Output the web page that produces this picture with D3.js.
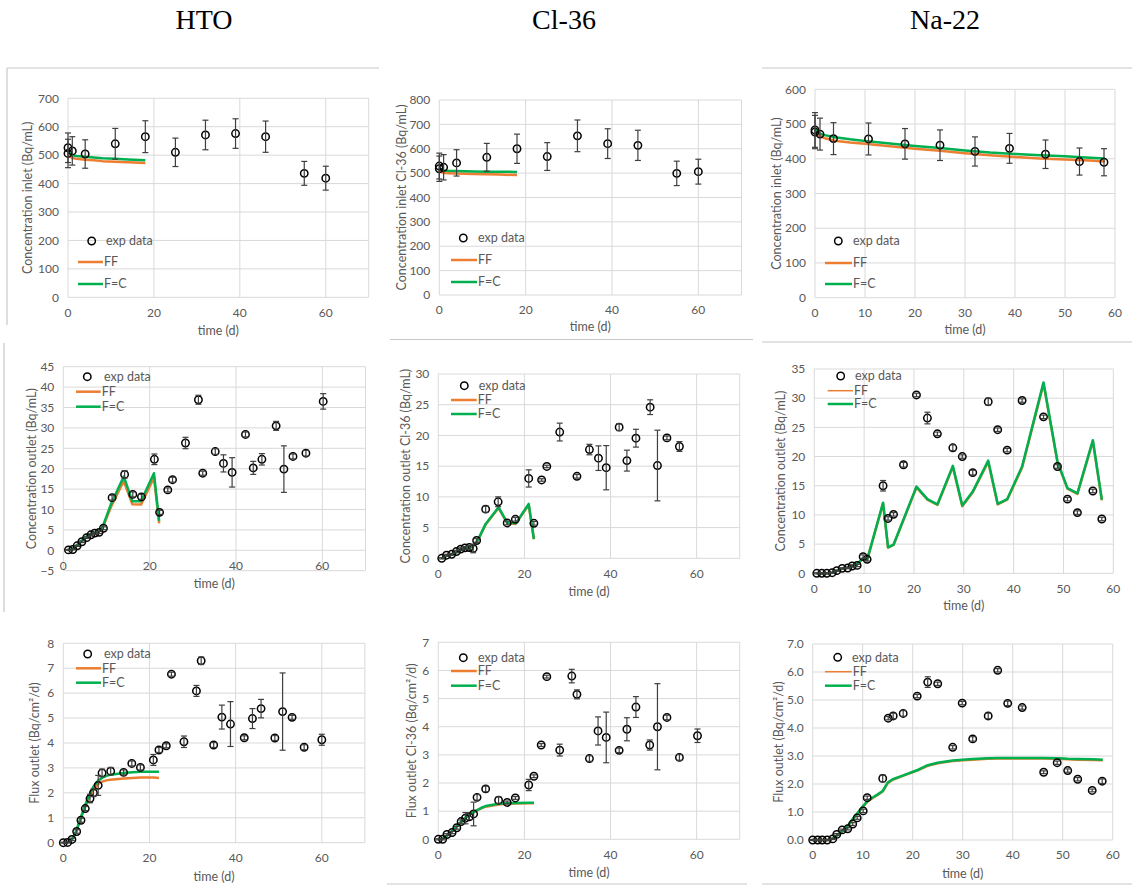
<!DOCTYPE html>
<html><head><meta charset="utf-8">
<script src="https://cdn.jsdelivr.net/npm/d3@7"></script>
<style>body{margin:0;background:#fff;} svg{display:block;} text{font-family:Lato,"Open Sans",sans-serif;}</style>
</head><body>
<svg id="c" width="1132" height="886"></svg>
<script>
// ---------- column titles ----------
const columnTitles = ["HTO", "Cl-36", "Na-22"];
const legendLabels = ["exp data", "FF", "F=C"];

// ---------- HTO inlet ----------
const htoInletT   = [0, 0, 1, 4, 11, 18, 25, 32, 39, 46, 55, 60];
const htoInletC   = [526, 506, 515, 504, 540, 565, 510, 571, 576, 565, 436, 419];
const htoInletErr = [52, 50, 50, 50, 54, 56, 50, 52, 52, 55, 42, 42];
const htoInletModelT = [0, 0.5, 1, 2, 4, 6, 8, 11, 14, 18];
const htoInletFF  = [505, 495, 490, 487, 484, 482, 479, 477, 475, 472];
const htoInletFC  = [512, 505, 500, 497, 494, 492, 489, 487, 485, 482];

// ---------- Cl-36 inlet ----------
const clInletT   = [0, 0, 1, 4, 11, 18, 25, 32, 39, 46, 55, 60];
const clInletC   = [529, 518, 524, 542, 565, 600, 568, 653, 621, 614, 499, 506];
const clInletErr = [53, 52, 52, 54, 57, 60, 57, 65, 61, 62, 50, 51];
const clInletModelT = [0, 0.5, 1, 2, 4, 6, 8, 11, 14, 18];
const clInletFF  = [518, 505, 501, 499, 498, 497, 496, 495, 494, 492];
const clInletFC  = [522, 513, 511, 510, 509, 508, 507, 506, 506, 505];

// ---------- Na-22 inlet ----------
const naInletT   = [0, 0, 1, 3.7, 10.7, 18, 25, 32, 38.9, 46.1, 52.9, 57.8];
const naInletC   = [483, 477, 471, 458, 457, 443, 439, 421, 430, 413, 392, 390];
const naInletErr = [50, 48, 46, 46, 46, 44, 44, 42, 43, 41, 39, 39];
const naInletModelT = [0, 0.5, 1, 2, 4, 7, 10, 15, 20, 25, 30, 35, 40, 45, 50, 55, 58];
const naInletFF  = [482, 470, 465, 459, 452, 447, 443, 436, 429, 423, 416, 410, 405, 401, 398, 395, 392];
const naInletFC  = [487, 477, 472, 468, 462, 456, 451, 444, 437, 431, 424, 418, 414, 410, 407, 403, 401];

// ---------- HTO outlet ----------
const htoOutT   = [1.2, 2.2, 3.2, 4.3, 5.4, 6.4, 7.3, 8.3, 9.3, 11.3, 14.2, 16.1, 18.1, 21.1, 22.3, 24.2, 25.3, 28.3, 31.3, 32.3, 35.2, 37.1, 39.1, 42.2, 44.0, 46.0, 49.3, 51.1, 53.2, 56.2, 60.2];
const htoOutC   = [0.1, 0.2, 1.1, 2.1, 3.1, 3.8, 4.2, 4.4, 5.4, 12.9, 18.6, 13.7, 13.1, 22.3, 9.3, 14.8, 17.3, 26.3, 36.9, 18.9, 24.2, 21.3, 19.1, 28.4, 20.2, 22.3, 30.5, 19.9, 23.0, 23.8, 36.5];
const htoOutErr = [0.1, 0.1, 0.15, 0.2, 0.2, 0.25, 0.25, 0.3, 0.35, 0.6, 0.9, 0.6, 0.6, 1.3, 0.5, 0.5, 0.6, 1.4, 1.1, 0.5, 0.7, 2.1, 3.6, 0.6, 1.6, 1.4, 1.1, 5.7, 0.6, 0.7, 1.9];
const htoOutModelT = [1, 2, 3, 4, 5, 6, 7, 8, 9, 11, 14, 16, 18, 21, 22.2];
const htoOutFF  = [0.1, 0.2, 1.0, 2.0, 3.0, 3.7, 4.1, 4.3, 5.2, 10.5, 17.0, 11.3, 11.2, 17.8, 6.6];
const htoOutFC  = [0.1, 0.2, 1.1, 2.1, 3.1, 3.8, 4.2, 4.4, 5.4, 11.2, 18.1, 12.0, 12.0, 18.9, 7.2];

// ---------- Cl-36 outlet ----------
const clOutT   = [0.8, 1.9, 3.1, 4.2, 5.2, 6.2, 7.2, 8.1, 8.9, 11, 13.9, 16, 17.9, 21, 22.2, 24, 25.2, 28.2, 32.2, 35.1, 37.2, 39, 42, 43.8, 45.9, 49.2, 50.9, 53.1, 56];
const clOutC   = [0.0, 0.5, 0.65, 1.1, 1.5, 1.7, 1.75, 1.6, 2.9, 8.0, 9.2, 5.75, 6.35, 13.0, 5.7, 12.75, 14.95, 20.55, 13.35, 17.7, 16.3, 14.75, 21.35, 15.9, 19.55, 24.6, 15.1, 19.6, 18.2];
const clOutErr = [0.1, 0.15, 0.15, 0.2, 0.2, 0.2, 0.3, 0.7, 0.3, 0.5, 0.8, 0.3, 0.3, 1.4, 0.3, 0.2, 0.2, 1.45, 0.3, 0.85, 2.0, 3.6, 0.55, 1.7, 1.45, 1.2, 5.75, 0.3, 0.8];
const clOutModelT = [0.8, 1.9, 3.1, 4.2, 5.2, 6.2, 7.2, 8.1, 9.2, 11, 14, 16, 18, 21, 22.2];
const clOutFF  = [0, 0.4, 0.6, 1.0, 1.35, 1.55, 1.65, 1.95, 2.9, 5.5, 8.2, 5.7, 5.6, 8.7, 3.1];
const clOutFC  = [0, 0.4, 0.6, 1.0, 1.4, 1.6, 1.7, 2.0, 3.0, 5.6, 8.3, 5.8, 5.7, 8.85, 3.15];

// ---------- Na-22 outlet ----------
const naOutT   = [0.5, 1.5, 2.5, 3.6, 4.5, 5.6, 6.7, 7.6, 8.6, 9.8, 10.6, 13.8, 14.8, 15.9, 17.9, 20.5, 22.7, 24.7, 27.8, 29.7, 31.8, 34.9, 36.8, 38.7, 41.7, 46.0, 48.8, 50.8, 52.8, 55.9, 57.7];
const naOutC   = [0, 0, 0, 0.1, 0.45, 0.85, 0.9, 1.25, 1.35, 2.85, 2.4, 15.0, 9.4, 10.1, 18.6, 30.55, 26.6, 23.9, 21.5, 20.0, 17.25, 29.4, 24.6, 21.1, 29.6, 26.8, 18.3, 12.7, 10.4, 14.1, 9.3];
const naOutErr = [0.1, 0.1, 0.1, 0.1, 0.1, 0.1, 0.1, 0.2, 0.2, 0.3, 0.3, 0.9, 0.3, 0.3, 0.4, 0.3, 1.0, 0.3, 0.5, 0.3, 0.4, 0.6, 0.3, 0.3, 0.3, 0.3, 0.3, 0.3, 0.3, 0.3, 0.3];
const naOutModelT = [0.5, 1.5, 2.5, 3.6, 4.5, 5.6, 6.7, 7.6, 8.6, 9.8, 10.6, 13.8, 14.8, 15.9, 20.5, 22.7, 24.7, 27.8, 29.7, 31.8, 34.9, 36.8, 38.7, 41.7, 46.0, 48.8, 50.8, 52.8, 55.9, 57.7];
const naOutFF  = [0, 0, 0, 0.1, 0.4, 0.8, 1.0, 1.3, 1.55, 2.55, 2.25, 12.0, 4.4, 4.85, 14.7, 12.6, 11.7, 18.2, 11.5, 13.9, 19.1, 11.8, 12.6, 18.1, 32.5, 19.0, 14.5, 13.6, 22.6, 12.5];
const naOutFC  = [0, 0, 0, 0.1, 0.4, 0.8, 1.0, 1.3, 1.6, 2.6, 2.3, 12.1, 4.45, 4.9, 14.85, 12.7, 11.8, 18.4, 11.6, 14.0, 19.3, 11.9, 12.7, 18.3, 32.7, 19.1, 14.6, 13.7, 22.8, 12.6];

// ---------- HTO flux ----------
const htoFluxT   = [0, 1, 2, 3.1, 4.1, 5.1, 6.2, 7.0, 8.1, 9.0, 11, 14, 15.9, 17.9, 20.9, 22.2, 23.9, 25.1, 28.0, 30.9, 32.0, 34.9, 36.8, 38.8, 42, 43.9, 45.9, 49.1, 50.9, 53.1, 55.9, 60];
const htoFluxC   = [0, 0.01, 0.13, 0.45, 0.9, 1.37, 1.77, 2.0, 2.3, 2.8, 2.87, 2.82, 3.18, 3.02, 3.32, 3.72, 3.89, 6.76, 4.05, 6.09, 7.3, 3.92, 5.04, 4.76, 4.21, 4.98, 5.38, 4.2, 5.26, 5.03, 3.83, 4.13];
const htoFluxErr = [0.02, 0.02, 0.05, 0.07, 0.08, 0.08, 0.17, 0.15, 0.4, 0.15, 0.15, 0.1, 0.1, 0.1, 0.22, 0.1, 0.08, 0.08, 0.23, 0.22, 0.15, 0.1, 0.48, 0.9, 0.08, 0.4, 0.37, 0.1, 1.55, 0.08, 0.1, 0.22];
const htoFluxModelT = [0, 1, 2, 3, 4, 5, 6, 7, 8, 9, 10, 11, 14, 16, 18, 21, 22.2];
const htoFluxFF  = [0, 0.01, 0.12, 0.45, 0.95, 1.42, 1.82, 2.12, 2.35, 2.45, 2.5, 2.53, 2.58, 2.6, 2.62, 2.62, 2.6];
const htoFluxFC  = [0, 0.01, 0.12, 0.47, 0.98, 1.48, 1.9, 2.25, 2.48, 2.6, 2.68, 2.73, 2.8, 2.83, 2.85, 2.85, 2.85];

// ---------- Cl-36 flux ----------
const clFluxT   = [0, 1, 2, 3.2, 4.3, 5.3, 6.3, 7.2, 8.2, 9, 11, 14, 16, 17.9, 21, 22.2, 23.9, 25.2, 28.2, 31, 32.2, 35.1, 37.1, 39, 42, 43.8, 45.9, 49.1, 50.9, 53.1, 56, 60.2];
const clFluxC   = [0, 0, 0.17, 0.24, 0.41, 0.63, 0.75, 0.8, 0.9, 1.49, 1.79, 1.39, 1.31, 1.47, 1.93, 2.24, 3.35, 5.78, 3.17, 5.8, 5.15, 2.87, 3.85, 3.62, 3.16, 3.91, 4.7, 3.35, 4.0, 4.33, 2.91, 3.68];
const clFluxErr = [0.02, 0.02, 0.03, 0.04, 0.05, 0.06, 0.2, 0.1, 0.42, 0.1, 0.1, 0.12, 0.05, 0.05, 0.2, 0.05, 0.05, 0.05, 0.21, 0.24, 0.16, 0.1, 0.5, 0.9, 0.08, 0.41, 0.37, 0.18, 1.53, 0.08, 0.1, 0.24];
const clFluxModelT = [0, 1, 2, 3, 4, 5, 6, 7, 8, 9, 10, 11, 14, 16, 18, 21, 22.2];
const clFluxFF  = [0, 0.02, 0.12, 0.26, 0.41, 0.57, 0.71, 0.84, 0.94, 1.03, 1.1, 1.16, 1.24, 1.26, 1.27, 1.28, 1.28];
const clFluxFC  = [0, 0.02, 0.12, 0.26, 0.42, 0.58, 0.72, 0.85, 0.95, 1.04, 1.12, 1.18, 1.26, 1.28, 1.29, 1.3, 1.3];

// ---------- Na-22 flux ----------
const naFluxT   = [0, 1, 1.9, 2.9, 4, 4.8, 5.9, 7, 8, 8.9, 10.1, 10.9, 14, 15.1, 16.1, 18.1, 20.9, 23, 25, 28, 29.9, 32, 35.1, 37, 39, 41.9, 46.2, 48.9, 51, 53, 55.9, 57.9];
const naFluxC   = [0, 0, 0, 0, 0.04, 0.2, 0.36, 0.4, 0.57, 0.79, 1.04, 1.51, 2.2, 4.35, 4.43, 4.52, 5.14, 5.64, 5.58, 3.31, 4.89, 3.61, 4.43, 6.06, 4.88, 4.73, 2.42, 2.76, 2.48, 2.17, 1.77, 2.1];
const naFluxErr = [0.02, 0.02, 0.02, 0.02, 0.02, 0.03, 0.03, 0.04, 0.05, 0.05, 0.06, 0.06, 0.12, 0.06, 0.1, 0.1, 0.06, 0.19, 0.06, 0.06, 0.06, 0.08, 0.1, 0.06, 0.08, 0.06, 0.05, 0.06, 0.06, 0.06, 0.05, 0.08];
const naFluxModelT = [0, 1, 2, 3, 4, 5, 6, 7, 8, 9, 10, 11, 12, 13, 14, 15, 16, 18, 21, 23, 25, 28, 30, 32, 35, 37, 39, 42, 46, 49, 51, 53, 56, 58];
const naFluxFF  = [0, 0, 0, 0, 0.05, 0.17, 0.32, 0.49, 0.73, 0.95, 1.18, 1.38, 1.5, 1.61, 1.73, 2.03, 2.15, 2.29, 2.49, 2.65, 2.74, 2.82, 2.85, 2.87, 2.9, 2.91, 2.91, 2.91, 2.91, 2.9, 2.88, 2.87, 2.86, 2.85];
const naFluxFC  = [0, 0, 0, 0, 0.05, 0.18, 0.33, 0.5, 0.75, 0.97, 1.2, 1.4, 1.52, 1.63, 1.75, 2.05, 2.17, 2.3, 2.5, 2.67, 2.76, 2.84, 2.87, 2.89, 2.92, 2.93, 2.93, 2.93, 2.93, 2.92, 2.9, 2.89, 2.88, 2.87];

// ---------- layout (positions only) ----------
const panels = [
  {L:68, R:368.7, T:98.3, B:297.3, xMax:70, yMin:0, yMax:700, yStep:100, fmt:"d", yTitle:"Concentration inlet (Bq/mL)", yTitleX:28, xTitleY:331,
   t:htoInletT, c:htoInletC, e:htoInletErr, mt:htoInletModelT, ff:htoInletFF, fc:htoInletFC,
   lg:{mx:91.7, my:241, tx:106, x1:78, x2:103, yff:262, yfc:284, ffw:2.5}},
  {L:439.3, R:741.5, T:100, B:295, xMax:70, yMin:0, yMax:800, yStep:100, fmt:"d", yTitle:"Concentration inlet Cl-36 (Bq/mL)", yTitleX:401.7, xTitleY:327,
   t:clInletT, c:clInletC, e:clInletErr, mt:clInletModelT, ff:clInletFF, fc:clInletFC,
   lg:{mx:463.3, my:238, tx:478, x1:451, x2:477, yff:260, yfc:282, ffw:2.5}},
  {L:815, R:1115, T:89.3, B:297.7, xMax:60, yMin:0, yMax:600, yStep:100, fmt:"d", yTitle:"Concentration inlet (Bq/mL)", yTitleX:776.7, xTitleY:330,
   t:naInletT, c:naInletC, e:naInletErr, mt:naInletModelT, ff:naInletFF, fc:naInletFC,
   lg:{mx:838.3, my:241, tx:853, x1:825, x2:852, yff:263, yfc:284, ffw:2.5}},
  {L:63.3, R:365.5, T:366.7, B:570.7, xMax:70, yMin:-5, yMax:45, yStep:5, fmt:"d", yTitle:"Concentration outlet (Bq/mL)", yTitleX:31.7, xTitleY:584,
   t:htoOutT, c:htoOutC, e:htoOutErr, mt:htoOutModelT, ff:htoOutFF, fc:htoOutFC,
   lg:{mx:87.3, my:376.7, tx:104, x1:76, x2:100.7, yff:391.7, yfc:406.7, ffw:2.5}},
  {L:438.3, R:739.7, T:374, B:558.3, xMax:70, yMin:0, yMax:30, yStep:5, fmt:"d", yTitle:"Concentration outlet Cl-36 (Bq/mL)", yTitleX:406, xTitleY:592,
   t:clOutT, c:clOutC, e:clOutErr, mt:clOutModelT, ff:clOutFF, fc:clOutFC,
   lg:{mx:464.3, my:385.7, tx:478.7, x1:451, x2:476.7, yff:400, yfc:414, ffw:2.5}},
  {L:814.3, R:1113.3, T:369, B:573.3, xMax:60, yMin:0, yMax:35, yStep:5, fmt:"d", yTitle:"Concentration outlet (Bq/mL)", yTitleX:781, xTitleY:606,
   t:naOutT, c:naOutC, e:naOutErr, mt:naOutModelT, ff:naOutFF, fc:naOutFC,
   lg:{mx:840.7, my:376, tx:855, x1:827.7, x2:853, yff:390.7, yfc:404, ffw:1.5}},
  {L:63.3, R:364.9, T:643.3, B:842.7, xMax:70, yMin:0, yMax:8, yStep:1, fmt:"d", yTitle:"Flux outlet (Bq/cm²/d)", yTitleX:35, xTitleY:877,
   t:htoFluxT, c:htoFluxC, e:htoFluxErr, mt:htoFluxModelT, ff:htoFluxFF, fc:htoFluxFC,
   lg:{mx:87.7, my:654, tx:104, x1:76, x2:101, yff:668.3, yfc:682.7, ffw:2.5}},
  {L:438.3, R:739.7, T:642.3, B:839.3, xMax:70, yMin:0, yMax:7, yStep:1, fmt:"d", yTitle:"Flux outlet Cl-36 (Bq/cm²/d)", yTitleX:411.7, xTitleY:873,
   t:clFluxT, c:clFluxC, e:clFluxErr, mt:clFluxModelT, ff:clFluxFF, fc:clFluxFC,
   lg:{mx:463.3, my:657.7, tx:478, x1:451, x2:476.7, yff:671, yfc:685.7, ffw:2.5}},
  {L:812.7, R:1112.7, T:644, B:840, xMax:60, yMin:0, yMax:7, yStep:1, fmt:".1f", yTitle:"Flux outlet (Bq/cm²/d)", yTitleX:778.3, xTitleY:874,
   t:naFluxT, c:naFluxC, e:naFluxErr, mt:naFluxModelT, ff:naFluxFF, fc:naFluxFC,
   lg:{mx:837.7, my:657.3, tx:852, x1:825, x2:851.7, yff:671.7, yfc:685.7, ffw:1.5}}
];

const GRID = "#d9d9d9", TXT = "#595959", ORANGE = "#ED7D31", GREEN = "#00B050", ERR = "#3f3f3f";
const svg = d3.select("#c");
svg.append("rect").attr("width", 1132).attr("height", 886).attr("fill", "#fff");

// chart frame fragments (screenshot borders)
const frames = [
  [7, 68, 379, 68], [7, 68, 7, 325], [762, 68, 1132, 68],
  [390, 339.5, 753, 339.5], [762, 342, 1132, 342], [4, 343, 4, 612],
  [387, 884, 747, 884], [762, 884, 1132, 884]
];
svg.append("g").selectAll("line").data(frames).join("line")
  .attr("x1", d => d[0]).attr("y1", d => d[1]).attr("x2", d => d[2]).attr("y2", d => d[3])
  .attr("stroke", "#c8c8c8").attr("stroke-width", 1.2);

// column titles
const titleX = [204, 564, 945];
svg.append("g").selectAll("text").data(columnTitles).join("text")
  .attr("x", (d, i) => titleX[i]).attr("y", 29)
  .attr("text-anchor", "middle")
  .style("font-family", "'Liberation Serif','Times New Roman',serif")
  .style("font-size", "28px").attr("fill", "#000").text(d => d);

panels.forEach(p => {
  const g = svg.append("g");
  const x = d3.scaleLinear().domain([0, p.xMax]).range([p.L, p.R]);
  const y = d3.scaleLinear().domain([p.yMin, p.yMax]).range([p.B, p.T]);
  const xt = d3.range(0, p.xMax + 0.001, p.xMax === 70 ? 20 : 10);
  const xgrid = d3.range(0, p.xMax + 0.001, p.xMax === 70 ? 20 : 10).concat(p.xMax === 70 ? [70] : []);
  const yt = d3.range(p.yMin, p.yMax + 0.0001, p.yStep);

  // gridlines
  g.selectAll(".gy").data(yt).join("line")
    .attr("x1", p.L).attr("x2", p.R).attr("y1", d => y(d)).attr("y2", d => y(d))
    .attr("stroke", GRID).attr("stroke-width", 1);
  g.selectAll(".gx").data(xgrid).join("line")
    .attr("y1", p.T).attr("y2", p.B).attr("x1", d => x(d)).attr("x2", d => x(d))
    .attr("stroke", GRID).attr("stroke-width", 1);

  // y tick labels
  const f = d3.format(p.fmt);
  g.selectAll(".yl").data(yt).join("text")
    .attr("x", p.L - 9).attr("y", d => y(d)).attr("dy", "0.35em")
    .attr("text-anchor", "end").attr("fill", TXT).style("font-size", "12px")
    .text(d => f(d));
  // x tick labels (next to axis at y=0)
  const axisY = y(Math.max(0, p.yMin));
  g.selectAll(".xl").data(xt).join("text")
    .attr("x", d => x(d)).attr("y", axisY + 15).attr("dy", "0.35em")
    .attr("text-anchor", "middle").attr("fill", TXT).style("font-size", "12px")
    .text(d => d);

  // axis titles
  g.append("text").attr("x", (p.L + p.R) / 2).attr("y", p.xTitleY).attr("dy", "0.35em")
    .attr("text-anchor", "middle").attr("fill", TXT).style("font-size", "12.5px").text("time (d)");
  g.append("text")
    .attr("transform", `translate(${p.yTitleX},${(p.T + p.B) / 2}) rotate(-90)`)
    .attr("dy", "0.35em").attr("text-anchor", "middle").attr("fill", TXT)
    .style("font-size", "12.5px").text(p.yTitle);

  // model lines
  const line = d3.line().x(d => x(d[0])).y(d => y(d[1]));
  g.append("path").datum(p.mt.map((t, i) => [t, p.ff[i]])).attr("d", line)
    .attr("fill", "none").attr("stroke", ORANGE).attr("stroke-width", 2.5).attr("stroke-linejoin", "round");
  g.append("path").datum(p.mt.map((t, i) => [t, p.fc[i]])).attr("d", line)
    .attr("fill", "none").attr("stroke", GREEN).attr("stroke-width", 2.5).attr("stroke-linejoin", "round");

  // experimental points
  const pts = p.t.map((t, i) => ({t, c: p.c[i], e: p.e[i]}));
  g.selectAll(".pt").data(pts).join("circle")
    .attr("cx", d => x(d.t)).attr("cy", d => y(d.c)).attr("r", 3.7)
    .attr("fill", "none").attr("stroke", "#000").attr("stroke-width", 1.5);
  const eb = g.selectAll(".eb").data(pts).join("g").attr("stroke", ERR).attr("stroke-width", 1.2);
  eb.append("line").attr("x1", d => x(d.t)).attr("x2", d => x(d.t))
    .attr("y1", d => y(d.c - d.e)).attr("y2", d => y(d.c + d.e));
  eb.append("line").attr("x1", d => x(d.t) - 3).attr("x2", d => x(d.t) + 3)
    .attr("y1", d => y(d.c - d.e)).attr("y2", d => y(d.c - d.e));
  eb.append("line").attr("x1", d => x(d.t) - 3).attr("x2", d => x(d.t) + 3)
    .attr("y1", d => y(d.c + d.e)).attr("y2", d => y(d.c + d.e));

  // legend
  const lg = p.lg;
  g.append("circle").attr("cx", lg.mx).attr("cy", lg.my).attr("r", 3.7)
    .attr("fill", "none").attr("stroke", "#000").attr("stroke-width", 1.5);
  g.append("line").attr("x1", lg.x1).attr("x2", lg.x2).attr("y1", lg.yff).attr("y2", lg.yff)
    .attr("stroke", ORANGE).attr("stroke-width", lg.ffw);
  g.append("line").attr("x1", lg.x1).attr("x2", lg.x2).attr("y1", lg.yfc).attr("y2", lg.yfc)
    .attr("stroke", GREEN).attr("stroke-width", 2.5);
  const lt = [[lg.tx, lg.my, legendLabels[0]], [lg.x2 + 1, lg.yff, legendLabels[1]], [lg.x2 + 1, lg.yfc, legendLabels[2]]];
  g.selectAll(".lt").data(lt).join("text")
    .attr("x", d => d[0]).attr("y", d => d[1]).attr("dy", "0.35em")
    .attr("fill", TXT).style("font-size", "12.5px").text(d => d[2]);
});
</script>
</body></html>
